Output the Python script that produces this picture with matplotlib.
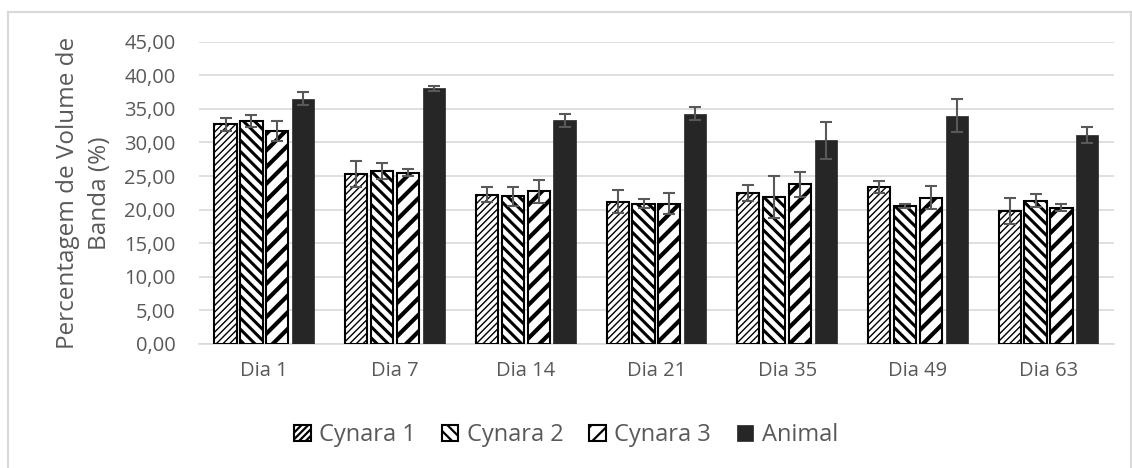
import numpy as np
import matplotlib
matplotlib.use('Agg')
import matplotlib.pyplot as plt
from matplotlib.lines import Line2D

plt.rcParams['font.family'] = ['Open Sans', 'DejaVu Sans']
plt.rcParams['hatch.linewidth'] = 1.6

dias = ['Dia 1', 'Dia 7', 'Dia 14', 'Dia 21', 'Dia 35', 'Dia 49', 'Dia 63']
series = ['Cynara 1', 'Cynara 2', 'Cynara 3', 'Animal']

cynara1 = [32.7, 25.25, 22.2, 21.2, 22.5, 23.3, 19.75]
cynara2 = [33.2, 25.75, 22.0, 20.9, 21.9, 20.6, 21.3]
cynara3 = [31.7, 25.5, 22.7, 20.9, 23.8, 21.8, 20.3]
animal = [36.5, 38.05, 33.3, 34.3, 30.3, 34.0, 31.1]

err_c1 = [1.0, 1.95, 1.1, 1.7, 1.2, 0.9, 1.95]
err_c2 = [0.9, 1.15, 1.4, 0.65, 3.1, 0.3, 0.95]
err_c3 = [1.5, 0.55, 1.65, 1.55, 1.85, 1.65, 0.5]
err_an = [1.0, 0.4, 0.95, 0.9, 2.8, 2.45, 1.15]

values = [cynara1, cynara2, cynara3, animal]
errors = [err_c1, err_c2, err_c3, err_an]
hatches = ['/////', '\\\\\\', '//', None]
hatch_lw = [1.0, 2.2, 3.0, None]

fig = plt.figure(figsize=(11.32, 4.68), dpi=100)
ax = fig.add_axes([0.1758, 0.265, 0.984 - 0.1758, 0.646])

x = np.arange(len(dias))
step = 0.198
width = 0.17
for i, (vals, errs) in enumerate(zip(values, errors)):
    pos = x + (i - 1.5) * step
    if hatches[i]:
        bars = ax.bar(pos, vals, width, color='white', edgecolor='black', hatch=hatches[i],
                      linewidth=1.5, label=series[i], zorder=3)
        for b in bars:
            if hasattr(b, 'set_hatch_linewidth'):
                b.set_hatch_linewidth(hatch_lw[i])
    else:
        ax.bar(pos, vals, width, color='#262626', edgecolor='#262626',
               linewidth=0.5, label=series[i], zorder=3)
    ax.errorbar(pos, vals, yerr=errs, fmt='none', ecolor='#595959',
                elinewidth=1.5, capsize=4.5, capthick=1.5, zorder=4)

ax.set_xlim(-0.5, len(dias) - 0.5)
ax.set_ylim(0, 45)
ticks = np.arange(0, 46, 5)
ax.set_yticks(ticks)
ax.set_yticklabels([f'{v:.2f}'.replace('.', ',') for v in ticks])
ax.set_xticks(x)
ax.set_xticklabels(dias)
ax.tick_params(length=0, labelsize=14.5, labelcolor='#595959')
ax.tick_params(axis='y', pad=17)
ax.tick_params(axis='x', pad=12)
ax.grid(axis='y', color='#d9d9d9', linewidth=1.2, zorder=0)
for s in ['top', 'right', 'left']:
    ax.spines[s].set_visible(False)
ax.spines['bottom'].set_color('#d9d9d9')
ax.spines['bottom'].set_linewidth(1.2)

ax.set_ylabel('Percentagem de Volume de\nBanda (%)', fontsize=17.5, color='#595959',
              labelpad=9, linespacing=1.4)

leg = fig.legend(loc='center', bbox_to_anchor=(0.5, 0.07), ncol=4, frameon=False,
                 fontsize=17, labelcolor='#595959', handlelength=0.7, handleheight=0.7,
                 handletextpad=0.35, columnspacing=1.1)

# chart border
bc = '#d9d9d9'
fig.add_artist(Line2D([8 / 1132, 8 / 1132], [0, 1 - 12 / 468], color=bc, lw=1.5))
fig.add_artist(Line2D([8 / 1132, 1131 / 1132], [1 - 12 / 468, 1 - 12 / 468], color=bc, lw=1.5))
fig.add_artist(Line2D([1131 / 1132, 1131 / 1132], [0, 1 - 12 / 468], color=bc, lw=1.5))

fig.savefig('out.png', dpi=100)
